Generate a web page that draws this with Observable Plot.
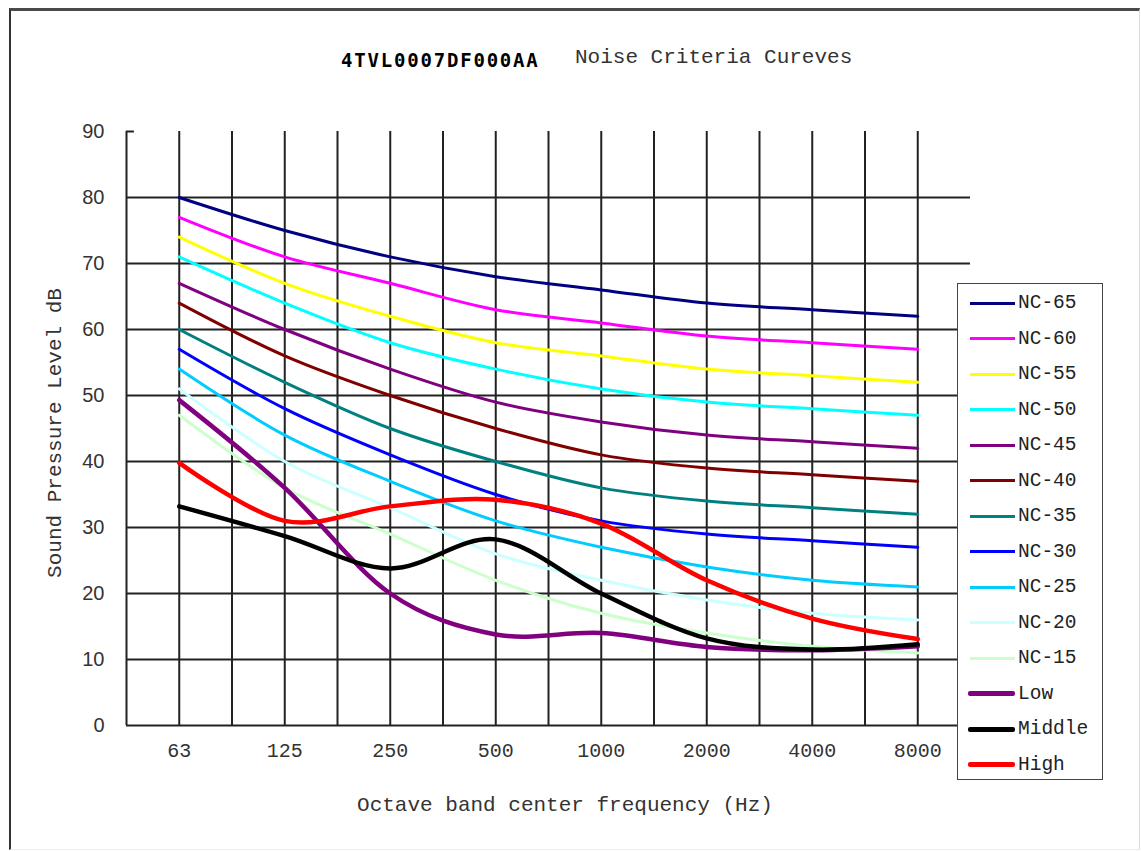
<!DOCTYPE html>
<html>
<head>
<meta charset="utf-8">
<script src="https://cdn.jsdelivr.net/npm/d3@7"></script>
<script src="https://cdn.jsdelivr.net/npm/@observablehq/plot@0.6"></script>
<style>
  html, body { margin: 0; padding: 0; background: #fff; }
  #wrap { position: relative; width: 1141px; height: 851px; overflow: hidden; background: #fff; }
  #frame { position: absolute; left: 9px; top: 8px; width: 1128px; height: 838px;
           border-top: 3px solid #4a4a4a; border-left: 2px solid #333; border-right: 1px solid #ddd; border-bottom: 1px solid #eee; }
  #chart { position: absolute; left: 0; top: 0; }
  .t1 { position: absolute; left: 341px; top: 49px; font: bold 19px "DejaVu Sans Mono", monospace; letter-spacing: 1.8px; color: #000; white-space: nowrap; }
  .t2 { position: absolute; left: 575px; top: 46px; font: 21px "Liberation Mono", monospace; color: #333; white-space: nowrap; }
  .ytitle { position: absolute; left: 55px; top: 433px; transform: translate(-50%, -50%) rotate(-90deg);
            font: 21px "Liberation Mono", monospace; color: #333; white-space: nowrap; }
  .xtitle { position: absolute; left: 565px; top: 805px; transform: translate(-50%, -50%);
            font: 21px "Liberation Mono", monospace; color: #333; white-space: nowrap; }
  #legend { position: absolute; left: 957px; top: 283px; width: 144px; height: 495px;
            border: 1.5px solid #444; background: #fff; }
  .li { position: absolute; left: 0; height: 30px; width: 140px; }
  .sw { position: absolute; left: 12px; width: 45px; }
  .lt { position: absolute; left: 60px; top: 0; font: 19.5px "Liberation Mono", monospace; color: #222; line-height: 30px; }
</style>
</head>
<body>
<div id="wrap">
  <div id="frame"></div>
  <div id="chart"></div>
  <div class="t1">4TVL0007DF000AA</div>
  <div class="t2">Noise Criteria Cureves</div>
  <div class="ytitle">Sound Pressure Level dB</div>
  <div class="xtitle">Octave band center frequency (Hz)</div>
  <div id="legend"></div>
</div>
<script>
// Categories (octave band center frequencies)
const freqs = ["63", "125", "250", "500", "1000", "2000", "4000", "8000"];
const yTicks = [0, 10, 20, 30, 40, 50, 60, 70, 80, 90];

// NC curves
const nc65 = [80, 75, 71, 68, 66, 64, 63, 62];
const nc60 = [77, 71, 67, 63, 61, 59, 58, 57];
const nc55 = [74, 67, 62, 58, 56, 54, 53, 52];
const nc50 = [71, 64, 58, 54, 51, 49, 48, 47];
const nc45 = [67, 60, 54, 49, 46, 44, 43, 42];
const nc40 = [64, 56, 50, 45, 41, 39, 38, 37];
const nc35 = [60, 52, 45, 40, 36, 34, 33, 32];
const nc30 = [57, 48, 41, 35, 31, 29, 28, 27];
const nc25 = [54, 44, 37, 31, 27, 24, 22, 21];
const nc20 = [51, 40, 33, 26, 22, 19, 17, 16];
const nc15 = [47, 36, 29, 22, 17, 14, 12, 11];
// Measured
const low    = [49.3, 36, 20, 13.8, 14, 11.9, 11.4, 12];
const middle = [33.2, 28.7, 23.8, 28.2, 20, 13.2, 11.5, 12.3];
const high   = [39.8, 31, 33.2, 34.2, 30.6, 22, 16.2, 13.1];

const ncNames  = ["NC-65","NC-60","NC-55","NC-50","NC-45","NC-40","NC-35","NC-30","NC-25","NC-20","NC-15"];
const ncValues = [nc65, nc60, nc55, nc50, nc45, nc40, nc35, nc30, nc25, nc20, nc15];
const ncColors = ["#000080","#ff00ff","#ffff00","#00ffff","#800080","#800000","#008080","#0000ff","#00ccff","#ccffff","#ccffcc"];
const measNames  = ["Low", "Middle", "High"];
const measValues = [low, middle, high];
const measColors = ["#800080", "#000000", "#ff0000"];

const allNames = ncNames.concat(measNames);
const allColors = ncColors.concat(measColors);

const toLong = (names, vals) => names.flatMap((n, k) => vals[k].map((v, i) => ({series: n, i, v})));
const ncData = toLong(ncNames, ncValues);
const measData = toLong(measNames, measValues);

const xMin = -0.5, xMax = freqs.length - 0.5;
const gridX = freqs.flatMap((f, i) => i < freqs.length - 1 ? [i, i + 0.5] : [i]);
const gridY = yTicks.filter(t => t > 0 && t < 90);
const topTick = yTicks[yTicks.length - 1];

const plot = Plot.plot({
  width: 1141, height: 851,
  marginLeft: 126, marginRight: 171, marginTop: 131, marginBottom: 126,
  x: {type: "linear", domain: [xMin, xMax], axis: null},
  y: {domain: [0, 90], axis: null},
  color: {domain: allNames, range: allColors},
  style: {background: "transparent", overflow: "visible"},
  marks: [
    Plot.ruleY(gridY, {x1: xMin, x2: xMax, stroke: "#222", strokeWidth: 2}),
    Plot.ruleX(gridX, {y1: 0, y2: 90, stroke: "#222", strokeWidth: 2}),
    Plot.ruleX([xMin], {y1: 0, y2: 90, stroke: "#222", strokeWidth: 2}),
    Plot.ruleY([0], {x1: xMin, x2: xMax, stroke: "#222", strokeWidth: 2}),
    Plot.ruleY([topTick], {x1: xMin, x2: xMin + 0.075, stroke: "#222", strokeWidth: 2}),
    Plot.line(ncData, {x: "i", y: "v", z: "series", stroke: "series", strokeWidth: 3, curve: "cardinal"}),
    Plot.line(measData, {x: "i", y: "v", z: "series", stroke: "series", strokeWidth: 4.5, curve: "cardinal"}),
    Plot.text(yTicks, {y: d => d, frameAnchor: "left", dx: -22, textAnchor: "end", text: d => String(d),
      fontFamily: "Liberation Sans, Arial, sans-serif", fontSize: 20, fill: "#333"}),
    Plot.text(freqs, {x: (d, i) => i, frameAnchor: "bottom", dy: 31, text: d => d,
      fontFamily: "Liberation Mono, monospace", fontSize: 20, fill: "#333"})
  ]
});
document.getElementById("chart").appendChild(plot);

// legend
const legend = document.getElementById("legend");
allNames.forEach((n, k) => {
  const thick = measNames.includes(n);
  const item = document.createElement("div");
  item.className = "li";
  item.style.top = (4 + k * 35.5) + "px";
  const sw = document.createElement("div");
  sw.className = "sw";
  sw.style.background = allColors[k];
  sw.style.height = (thick ? 5 : 3) + "px";
  sw.style.top = (thick ? 12.5 : 13.5) + "px";
  if (thick) { sw.style.left = "10px"; sw.style.width = "47px"; sw.style.borderRadius = "2px"; }
  const lt = document.createElement("div");
  lt.className = "lt";
  lt.textContent = n;
  item.appendChild(sw); item.appendChild(lt);
  legend.appendChild(item);
});
</script>
</body>
</html>
